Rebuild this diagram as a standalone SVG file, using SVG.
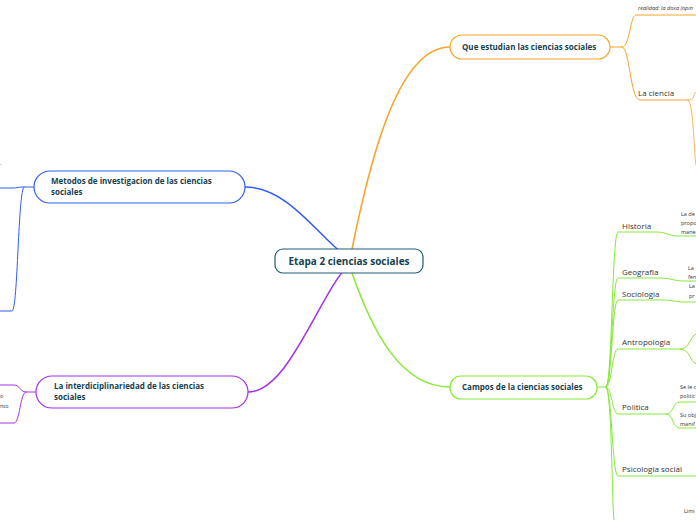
<svg xmlns="http://www.w3.org/2000/svg" width="696" height="520" viewBox="0 0 696 520">
<style>
text{font-family:"Open Sans","Noto Sans",sans-serif;fill:#333}
.t{font-size:8px}
.s{font-size:5.5px}
.b{font-size:8px;font-weight:bold;fill:#16424f}
.c{fill:none;stroke-linecap:round}
.o{stroke:#f7a428}.g{stroke:#88e83a}.bl{stroke:#2f5cf0}.p{stroke:#a62ee8}
</style>
<rect width="696" height="520" fill="#fff"/>
<g id="connectors">
<path class="c o" d="M352,249 C372,150 400,47 450,47" stroke-width="1.5"/>
<path class="c g" d="M352,273 C372,330 400,387 450,387" stroke-width="1.5"/>
<path class="c bl" d="M352,261 C320,240 290,187 245,187" stroke-width="1.5"/>
<path class="c p" d="M352,261 C320,290 290,392 248,392" stroke-width="1.5"/>
<path class="c o" d="M610,47 L622,47 C630,47 630,15 636,15 L696,15" stroke-width="1"/>
<path class="c o" d="M622,47 C630,47 630,100 640,100 L688,100" stroke-width="1"/>
<path class="c o" d="M688,100 C696,100 692,95 696,92 M688,100 C694,102 694,160 696,165" stroke-width="0.8"/>
<g stroke-width="1" class="g">
<path class="c g" d="M597,387 L606,387 C612,387 612,232 618,232 L656,232 C666,232 670,236 677,236 L696,236"/>
<path class="c g" d="M606,387 C612,387 612,278 618,278 L660,278 C670,278 674,281 684,281 L696,281"/>
<path class="c g" d="M606,387 C612,387 612,300 618,300 L662,300 C672,300 676,302 684,302 L696,302"/>
<path class="c g" d="M606,387 C612,387 612,349 618,349 L680,349 C690,349 690,336 696,334 M680,349 C690,349 690,362 696,364"/>
<path class="c g" d="M606,387 C612,387 612,414 618,414 L666,414 C674,414 672,402 680,402 L696,402 M666,414 C674,414 672,428 680,428 L696,428"/>
<path class="c g" d="M606,387 C612,387 612,476 618,476 L696,476"/>
<path class="c g" d="M606,387 C612,387 612,515 614,520"/>
</g>
<path class="c bl" d="M34,187 L24,187 C18,187 18,188 12,188 L0,188 M24,187 C18,187 18,311 12,311 L0,311" stroke-width="1"/>
<path class="c p" d="M36,392 L26,392 C20,392 20,385 14,385 L0,385 M26,392 C20,392 20,423 14,423 L0,423" stroke-width="1"/>
</g>
<g id="center"><rect x="275" y="249" width="148" height="24" rx="8" fill="#fff" stroke="#1e5a7a" stroke-width="1.2"/><text x="349" y="265" text-anchor="middle" style="font-size:10px;font-weight:bold;fill:#16424f">Etapa 2 ciencias sociales</text></g>
<g id="que"><rect x="450" y="35" width="160" height="24" rx="12" fill="#fff" stroke="#f7a428" stroke-width="1.2"/><text class="b" x="462" y="50">Que estudian las ciencias sociales</text></g>
<g id="campos"><rect x="450" y="376" width="147" height="23" rx="11" fill="#fff" stroke="#88e83a" stroke-width="1.2"/><text class="b" x="462" y="390">Campos de la ciencias sociales</text></g>
<g id="metodos"><rect x="34" y="171" width="211" height="32" rx="16" fill="#fff" stroke="#2f5cf0" stroke-width="1.2"/><text class="b" x="51" y="184">Metodos de investigacion de las ciencias</text><text class="b" x="51" y="195">sociales</text></g>
<g id="inter"><rect x="36" y="376" width="212" height="32" rx="16" fill="#fff" stroke="#a62ee8" stroke-width="1.2"/><text class="b" x="54" y="389">La interdiciplinariedad de las ciencias</text><text class="b" x="54" y="400">sociales</text></g>
<g id="leaves">
<text class="s" x="638" y="10" font-style="italic">realidad: la doxa (opin</text>
<text class="t" x="638" y="96">La ciencia</text>
<text class="t" x="622" y="229">Historia</text>
<text class="s" x="681" y="216">La de</text><text class="s" x="681" y="225">propo</text><text class="s" x="681" y="234">mane</text>
<text class="t" x="622" y="275">Geografia</text>
<text class="s" x="688" y="270">La</text><text class="s" x="688" y="279">fen</text>
<text class="t" x="622" y="297">Sociologia</text>
<text class="s" x="689" y="288">La</text><text class="s" x="689" y="298">pr</text>
<text class="t" x="622" y="345">Antropologia</text>
<text class="t" x="622" y="410">Politica</text>
<text class="s" x="680" y="389">Se le c</text><text class="s" x="680" y="398">politic</text>
<text class="s" x="680" y="417">Su obj</text><text class="s" x="680" y="426">manif</text>
<text class="t" x="622" y="472">Psicologia social</text>
<text class="s" x="684" y="513">Limi</text>
<text class="s" x="0" y="165">.</text>
<text class="s" x="0" y="398">o</text><text class="s" x="0" y="408">nto</text>
</g>
</svg>
